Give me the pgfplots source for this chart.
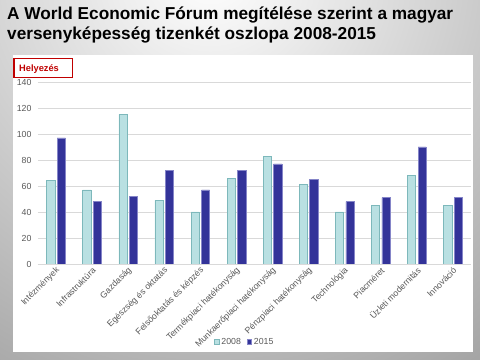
\documentclass[border=0pt]{standalone}
\usepackage{fontspec}
\setmainfont{Liberation Sans}
\usepackage{pgfplots}
\pgfplotsset{compat=1.18}
\definecolor{c08}{HTML}{B9E0E2}
\definecolor{c08e}{HTML}{7DB8BB}
\definecolor{c15}{HTML}{333399}
\definecolor{c15e}{HTML}{8585C8}
\definecolor{tickgray}{HTML}{595959}
\definecolor{gridgray}{HTML}{D9D9D9}
\definecolor{hred}{HTML}{C00000}
\begin{document}
\begin{tikzpicture}
\useasboundingbox (0,0) rectangle (480bp,360bp);
\begin{scope}
\clip (0,0) rectangle (480bp,360bp);
\shade[inner color=white, outer color=black!60] (210bp,390bp) circle (800bp);
\end{scope}
\fill[white] (13bp,8bp) rectangle (473bp,305bp);
\node[anchor=base west, inner sep=0pt, font=\bfseries\fontsize{17.3}{20}\selectfont] at (7bp,340bp) {A World Economic Fórum megítélése szerint a magyar};
\node[anchor=base west, inner sep=0pt, font=\bfseries\fontsize{17.3}{20}\selectfont] at (7bp,320bp) {versenyképesség tizenkét oszlopa 2008-2015};
\begin{axis}[
  at={(38bp,96bp)}, anchor=south west,
  scale only axis, width=433bp, height=182bp,
  ybar=2.3bp, bar width=8.2bp,
  xmin=-0.5, xmax=11.5, ymin=0, ymax=140,
  ytick={0,20,...,140},
  xtick={0,...,11},
  xticklabels={Intézmények,Infrastruktúra,Gazdaság,Egészség és oktatás,Felsőoktatás és képzés,Termékpiaci hatékonyság,Munkaerőpiaci hatékonyság,Pénzpiaci hatékonyság,Technológia,Piacméret,Üzleti modernitás,Innováció},
  axis x line*=bottom, axis y line*=left,
  x axis line style={draw=gridgray, line width=0.8bp, -},
  y axis line style={draw=none},
  xtick style={draw=none}, ytick style={draw=none},
  ymajorgrids, grid style={draw=gridgray, line width=0.8bp},
  /pgf/number format/assume math mode=true,
  tick label style={font=\fontsize{8.8}{10}\selectfont, text=tickgray},
  yticklabel style={xshift=-3bp},
  xticklabel style={rotate=45, anchor=east, inner sep=1bp, xshift=2bp, yshift=-2bp},
  legend style={at={(0.478,-0.427)}, anchor=center, draw=none, fill=none,
    legend columns=2, font=\fontsize{8.8}{10}\selectfont, text=tickgray,
    /tikz/every even column/.append style={column sep=4bp}},
]
\addplot[fill=c08, draw=c08e, line width=0.6bp,
  legend image code/.code={\draw[fill=c08, draw=c08e, line width=0.5bp] (0bp,-2.3bp) rectangle (4.5bp,2.3bp);}]
  coordinates {(0,64) (1,57) (2,115) (3,49) (4,40) (5,66) (6,83) (7,61) (8,40) (9,45) (10,68) (11,45)};
\addplot[fill=c15, draw=c15e, line width=0.6bp,
  legend image code/.code={\draw[fill=c15, draw=c15e, line width=0.5bp] (0bp,-2.3bp) rectangle (4.5bp,2.3bp);}]
  coordinates {(0,97) (1,48) (2,52) (3,72) (4,57) (5,72) (6,77) (7,65) (8,48) (9,51) (10,90) (11,51)};
\legend{2008,2015}
\end{axis}
\draw[hred, line width=1.6bp, fill=white] (14bp,282.5bp) rectangle (72.5bp,301.5bp);
\node[anchor=base west, inner sep=0pt, text=hred, font=\bfseries\fontsize{9.3}{11}\selectfont] at (19bp,288.5bp) {Helyezés};
\end{tikzpicture}
\end{document}
